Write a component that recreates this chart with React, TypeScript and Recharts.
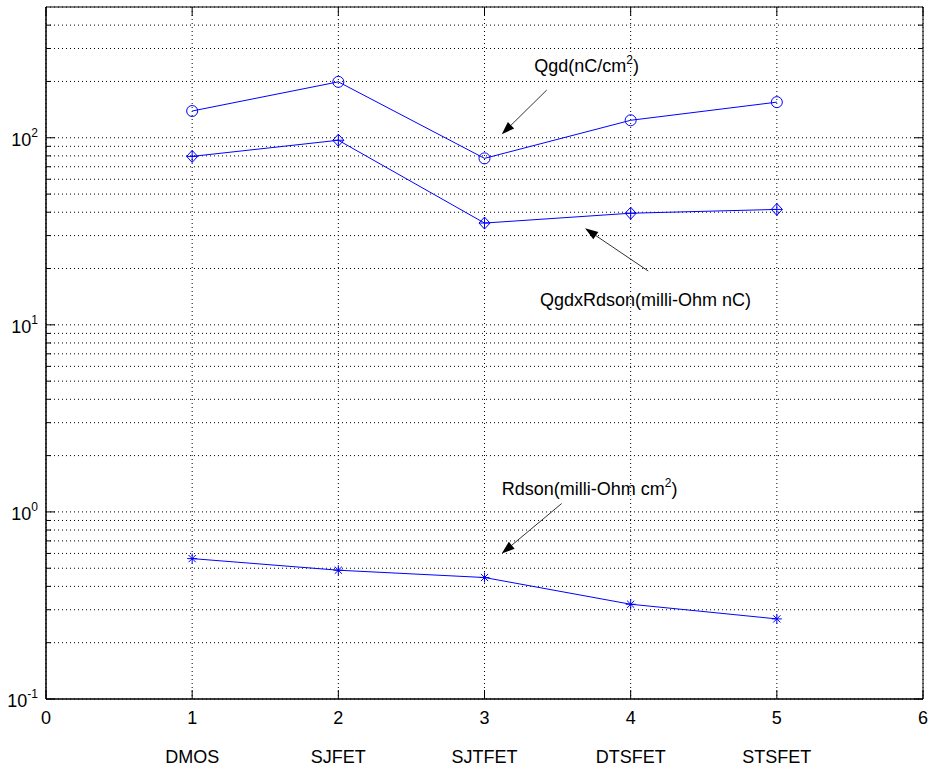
import React from "react";
import {
  CartesianGrid,
  Line,
  LineChart,
  ReferenceArea,
  ReferenceDot,
  ReferenceLine,
  XAxis,
  YAxis,
} from "recharts";

// device categories shown under the numeric x ticks
const CATEGORIES = ["DMOS", "SJFET", "SJTFET", "DTSFET", "STSFET"];
const X_POS = [1, 2, 3, 4, 5];
const QGD = [139, 199, 77.6, 124, 155];
const QGD_RDSON = [79.5, 97, 35, 39.5, 41.4];
const RDSON = [0.563, 0.488, 0.446, 0.321, 0.268];

const X_TICKS = [0, 1, 2, 3, 4, 5, 6];
const Y_TICKS = [
  0.1, 0.2, 0.3, 0.4, 0.5, 0.6, 0.7, 0.8, 0.9,
  1, 2, 3, 4, 5, 6, 7, 8, 9,
  10, 20, 30, 40, 50, 60, 70, 80, 90,
  100, 200, 300, 400,
];
const DECADES: Record<string, string> = { "0.1": "-1", "1": "0", "10": "1", "100": "2" };

// text annotations (data coords) and their arrows
const NOTES = [
  { x: 3.34, y: 225, text: "Qgd(nC/cm", sup: "2", tail: ")" },
  { x: 3.38, y: 12.6, text: "QgdxRdson(milli-Ohm nC)", sup: "", tail: "" },
  { x: 3.118, y: 1.228, text: "Rdson(milli-Ohm cm", sup: "2", tail: ")" },
];
const ARROWS = [
  { x1: 3.426, y1: 180, x2: 3.118, y2: 104.3 },
  { x1: 4.12, y1: 19.4, x2: 3.688, y2: 32.8 },
  { x1: 3.528, y1: 1.109, x2: 3.118, y2: 0.599 },
];

const W = 931;
const H = 773;
const PLOT_LEFT = 46;
const PLOT_TOP = 7;
const PLOT_RIGHT = 923;
const FONT = "'Liberation Sans', Arial, Helvetica, sans-serif";
const BLUE = "#0000ff";

const data = X_POS.map((x, i) => ({
  x,
  qgd: QGD[i],
  qgdr: QGD_RDSON[i],
  rdson: RDSON[i],
}));

const XTick = (p: any) => {
  const { x, y, payload } = p;
  const v = payload.value;
  const cat = CATEGORIES[v - 1];
  return (
    <g>
      <line x1={x} y1={y} x2={x} y2={y - 9} stroke="#000" />
      <line x1={x} y1={PLOT_TOP} x2={x} y2={PLOT_TOP + 9} stroke="#000" />
      <text x={x} y={y + 25} textAnchor="middle" fontSize={18} fontFamily={FONT} fill="#000">
        {v}
      </text>
      {cat && (
        <text x={x} y={763} textAnchor="middle" fontSize={18} fontFamily={FONT} fill="#000">
          {cat}
        </text>
      )}
    </g>
  );
};

const YTick = (p: any) => {
  const { y, payload } = p;
  const exp = DECADES[String(payload.value)];
  const len = exp !== undefined ? 9 : 5;
  return (
    <g>
      <line x1={PLOT_LEFT} y1={y} x2={PLOT_LEFT + len} y2={y} stroke="#000" />
      <line x1={PLOT_RIGHT} y1={y} x2={PLOT_RIGHT - len} y2={y} stroke="#000" />
      {exp !== undefined && (
        <text x={PLOT_LEFT - 8} y={y + 8} textAnchor="end" fontSize={18} fontFamily={FONT} fill="#000">
          10
          <tspan dy={-9} fontSize={12}>
            {exp}
          </tspan>
        </text>
      )}
    </g>
  );
};

const CircleDot = (p: any) => {
  if (p.cx == null) return <g key={`c-${p.index}`} />;
  return <circle key={`c-${p.index}`} cx={p.cx} cy={p.cy} r={5.5} fill="none" stroke={BLUE} />;
};

const DiamondDot = (p: any) => {
  if (p.cx == null) return <g key={`d-${p.index}`} />;
  const { cx, cy } = p;
  return (
    <g key={`d-${p.index}`} stroke={BLUE} fill="none">
      <path d={`M${cx - 5.5},${cy} L${cx},${cy - 6} L${cx + 5.5},${cy} L${cx},${cy + 6} Z`} />
      <line x1={cx - 5.5} y1={cy} x2={cx + 5.5} y2={cy} />
      <line x1={cx} y1={cy - 6} x2={cx} y2={cy + 6} />
    </g>
  );
};

const StarDot = (p: any) => {
  if (p.cx == null) return <g key={`s-${p.index}`} />;
  const { cx, cy } = p;
  const d = 3.6;
  return (
    <g key={`s-${p.index}`} stroke={BLUE}>
      <line x1={cx - 5} y1={cy} x2={cx + 5} y2={cy} />
      <line x1={cx} y1={cy - 5} x2={cx} y2={cy + 5} />
      <line x1={cx - d} y1={cy - d} x2={cx + d} y2={cy + d} />
      <line x1={cx - d} y1={cy + d} x2={cx + d} y2={cy - d} />
    </g>
  );
};

const Arrow = (p: any) => {
  const { x1, y1, x2, y2 } = p;
  if (x1 == null) return <g />;
  const a = Math.atan2(y2 - y1, x2 - x1);
  const L = 13;
  const hw = 4.5;
  const bx = x2 - L * Math.cos(a);
  const by = y2 - L * Math.sin(a);
  const px = -Math.sin(a) * hw;
  const py = Math.cos(a) * hw;
  return (
    <g>
      <line x1={x1} y1={y1} x2={bx} y2={by} stroke="#333" strokeWidth={1} />
      <polygon points={`${x2},${y2} ${bx + px},${by + py} ${bx - px},${by - py}`} fill="#000" />
    </g>
  );
};

const noteShape = (n: (typeof NOTES)[number]) => (p: any) => (
  <text x={p.cx} y={p.cy} fontSize={18} fontFamily={FONT} fill="#000">
    {n.text}
    {n.sup && (
      <tspan dy={-8} fontSize={12}>
        {n.sup}
      </tspan>
    )}
    {n.tail && <tspan dy={n.sup ? 8 : 0}>{n.tail}</tspan>}
  </text>
);

export default function App() {
  return (
    <div style={{ position: "absolute", left: 0, top: 0, width: W, height: H, background: "#fff" }}>
      <LineChart width={W} height={H} data={data} margin={{ top: PLOT_TOP, right: W - PLOT_RIGHT, bottom: 0, left: 0 }}>
        <CartesianGrid stroke="#000" strokeDasharray="1 3" strokeWidth={1} />
        <XAxis
          dataKey="x"
          type="number"
          domain={[0, 6]}
          ticks={X_TICKS}
          height={74}
          tickLine={false}
          tickSize={0}
          tickMargin={0}
          axisLine={{ stroke: "#000" }}
          tick={<XTick />}
          interval={0}
        />
        <YAxis
          scale="log"
          domain={[0.1, 500]}
          allowDataOverflow
          ticks={Y_TICKS}
          width={PLOT_LEFT}
          tickLine={false}
          tickSize={0}
          tickMargin={0}
          axisLine={{ stroke: "#000" }}
          tick={<YTick />}
          interval={0}
        />
        <ReferenceArea x1={0} x2={6} y1={0.1} y2={500} fill="none" stroke="#000" strokeOpacity={1} fillOpacity={0} />
        <Line type="linear" dataKey="qgd" stroke={BLUE} strokeWidth={1} dot={CircleDot} activeDot={false} isAnimationActive={false} />
        <Line type="linear" dataKey="qgdr" stroke={BLUE} strokeWidth={1} dot={DiamondDot} activeDot={false} isAnimationActive={false} />
        <Line type="linear" dataKey="rdson" stroke={BLUE} strokeWidth={1} dot={StarDot} activeDot={false} isAnimationActive={false} />
        {ARROWS.map((a, i) => (
          <ReferenceLine
            key={`a-${i}`}
            segment={[
              { x: a.x1, y: a.y1 },
              { x: a.x2, y: a.y2 },
            ]}
            shape={Arrow}
          />
        ))}
        {NOTES.map((n, i) => (
          <ReferenceDot key={`n-${i}`} x={n.x} y={n.y} r={0} shape={noteShape(n)} />
        ))}
      </LineChart>
    </div>
  );
}
